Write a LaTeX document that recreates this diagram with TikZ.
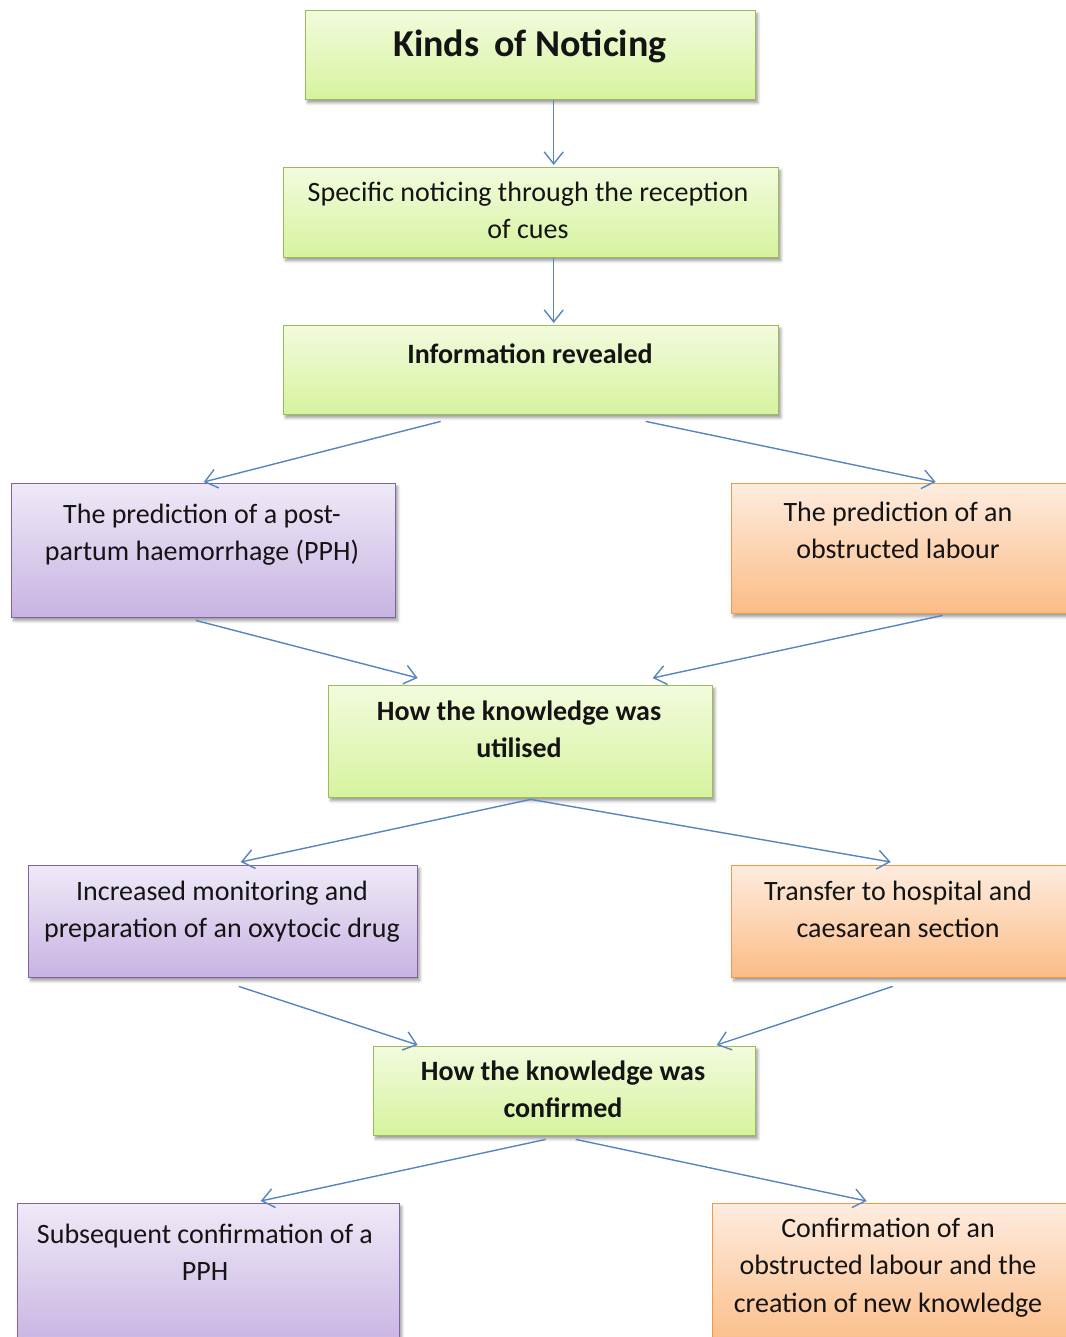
\documentclass[tikz,border=0pt]{standalone}
\usepackage{fontspec}
\setmainfont{Carlito}
\usetikzlibrary{arrows.meta,shadows.blur}

\definecolor{grnline}{HTML}{9BBB59}
\definecolor{grntop}{HTML}{F2FBDD}
\definecolor{grnbot}{HTML}{D6F39E}
\definecolor{purline}{HTML}{8064A2}
\definecolor{purtop}{HTML}{EFE9F7}
\definecolor{purbot}{HTML}{C7B3E2}
\definecolor{orgline}{HTML}{F79646}
\definecolor{orgtop}{HTML}{FEECDF}
\definecolor{orgbot}{HTML}{FBBC86}
\definecolor{linkblue}{HTML}{5585C0}

\tikzset{
  box/.style={draw, line width=1.4pt, anchor=north west, inner sep=0pt,
    blur shadow={shadow xshift=2pt, shadow yshift=-3pt, shadow blur radius=3pt, shadow opacity=40}},
  gbox/.style={box, draw=grnline, top color=grntop, bottom color=grnbot},
  pbox/.style={box, draw=purline, top color=purtop, bottom color=purbot},
  obox/.style={box, draw=orgline, top color=orgtop, bottom color=orgbot},
  lbl/.style={anchor=north, align=center, inner sep=0pt, text=black!92,
    font=\fontsize{28}{37.5}\selectfont},
  blbl/.style={lbl, font=\fontsize{28}{37.5}\selectfont\bfseries},
  conn/.style={draw=linkblue, line width=1.4pt, -{Straight Barb[length=12pt,width=19pt]}}
}

\begin{document}
\begin{tikzpicture}[x=1pt, y=-1pt]
\useasboundingbox (0,0) rectangle (1065,1337);

% boxes
\node[gbox, minimum width=450pt, minimum height=89pt] (kinds) at (305,10) {};
\node[gbox, minimum width=495pt, minimum height=90pt] (spec) at (283,167) {};
\node[gbox, minimum width=495pt, minimum height=89pt] (info) at (283,325) {};
\node[pbox, minimum width=384pt, minimum height=134pt] (pph) at (11,483) {};
\node[obox, minimum width=339pt, minimum height=130pt] (obs) at (731,483) {};
\node[gbox, minimum width=384pt, minimum height=112pt] (util) at (328,685) {};
\node[pbox, minimum width=389pt, minimum height=112pt] (incr) at (28,865) {};
\node[obox, minimum width=339pt, minimum height=112pt] (trans) at (731,865) {};
\node[gbox, minimum width=382pt, minimum height=89pt] (conf) at (373,1046) {};
\node[pbox, minimum width=382pt, minimum height=145pt] (subs) at (17,1203) {};
\node[obox, minimum width=358pt, minimum height=145pt] (confo) at (712,1203) {};

% texts
\node[anchor=north, inner sep=0pt, text=black!92,
      font=\fontsize{38}{46}\selectfont\bfseries] (tkinds) at (530,24) {\strut Kinds\ \,of Noticing};
\node[lbl] (tspec) at (528,175) {\strut Specific noticing through the reception\\of cues};
\node[blbl] (tinfo) at (530,337) {\strut Information revealed};
\node[lbl] (tpph) at (202,497) {\strut The prediction of a post-\\partum haemorrhage (PPH)};
\node[lbl] (tobs) at (898,495) {\strut The prediction of an\\obstructed labour};
\node[blbl] (tutil) at (519,694) {\strut How the knowledge was\\utilised};
\node[lbl] (tincr) at (222,874) {\strut Increased monitoring and\\preparation of an oxytocic drug};
\node[lbl] (ttrans) at (898,874) {\strut Transfer to hospital and\\caesarean section};
\node[blbl] (tconf) at (563,1054) {\strut How the knowledge was\\confirmed};
\node[lbl] (tsubs) at (205,1217) {\strut Subsequent confirmation of a\\PPH};
\node[lbl] (tconfo) at (888,1211) {\strut Confirmation of an\\obstructed labour and the\\creation of new knowledge};

% connectors
\draw[conn] ([xshift=23pt]kinds.south) -- ([xshift=22.5pt,yshift=2pt]spec.north);
\draw[conn] ([xshift=22.5pt]spec.south) -- ([xshift=22.5pt,yshift=2pt]info.north);
\draw[conn] ([xshift=-90.5pt,yshift=-6pt]info.south) -- ([yshift=1pt]pph.north);
\draw[conn] ([xshift=114.5pt,yshift=-6pt]info.south) -- ([xshift=34.5pt,yshift=1pt]obs.north);
\draw[conn] ([xshift=-8pt,yshift=-2pt]pph.south) -- ([xshift=-103pt,yshift=7pt]util.north);
\draw[conn] ([xshift=41.5pt,yshift=-1pt]obs.south) -- ([xshift=132pt,yshift=7pt]util.north);
\draw[conn] ([xshift=10pt,yshift=-1pt]util.south) -- ([xshift=17.5pt,yshift=3pt]incr.north);
\draw[conn] ([xshift=10pt,yshift=-1pt]util.south) -- ([xshift=-10.5pt,yshift=3pt]trans.north);
\draw[conn] ([xshift=15.5pt,yshift=-8pt]incr.south) -- ([xshift=-147pt,yshift=1pt]conf.north);
\draw[conn] ([xshift=-8.5pt,yshift=-8pt]trans.south) -- ([xshift=152pt,yshift=1pt]conf.north);
\draw[conn] ([xshift=-19pt,yshift=-3pt]conf.south) -- ([xshift=52pt,yshift=2pt]subs.north);
\draw[conn] ([xshift=11pt,yshift=-3pt]conf.south) -- ([xshift=-25pt,yshift=2pt]confo.north);
\end{tikzpicture}
\end{document}
